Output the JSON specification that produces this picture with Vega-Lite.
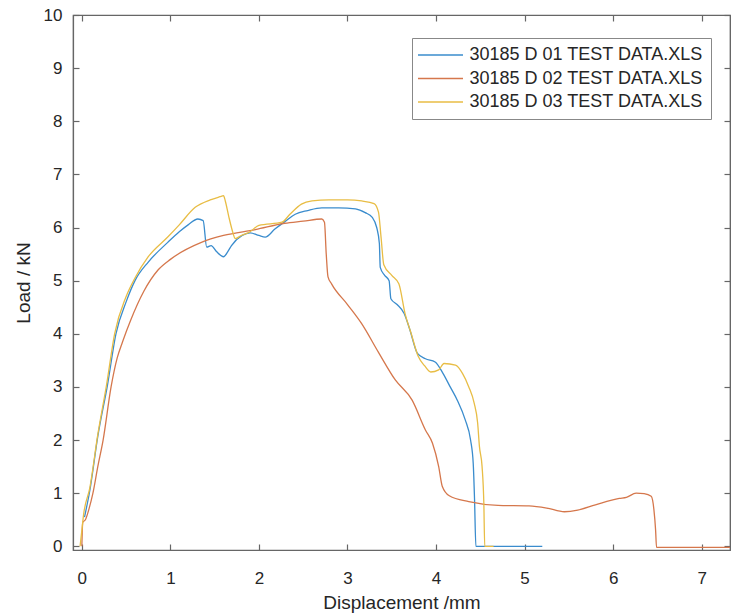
{
  "$schema": "https://vega.github.io/schema/vega-lite/v6.json",
  "width": 657,
  "height": 535,
  "autosize": {"type": "none"},
  "padding": {"left": 73, "top": 15, "right": 1, "bottom": 64},
  "background": "white",
  "config": {
    "font": "Liberation Sans",
    "view": {"stroke": "#666666", "strokeWidth": 1.2},
    "axis": {"grid": false, "domainColor": "#666666", "tickColor": "#666666", "labelColor": "#262626", "titleColor": "#262626", "labelFont": "Liberation Sans", "titleFont": "Liberation Sans", "labelFontSize": 17, "titleFontSize": 19, "titleFontWeight": "normal", "tickSize": -6, "tickWidth": 1.2, "domainWidth": 1.2}
  },
  "data": {"values": [
    {"file": "30185 D 01 TEST DATA.XLS", "disp": 0.03, "load": 0.55},
    {"file": "30185 D 01 TEST DATA.XLS", "disp": 0.09, "load": 1.05},
    {"file": "30185 D 01 TEST DATA.XLS", "disp": 0.18, "load": 2.07},
    {"file": "30185 D 01 TEST DATA.XLS", "disp": 0.29, "load": 3.04},
    {"file": "30185 D 01 TEST DATA.XLS", "disp": 0.385, "load": 4.0},
    {"file": "30185 D 01 TEST DATA.XLS", "disp": 0.5, "load": 4.6},
    {"file": "30185 D 01 TEST DATA.XLS", "disp": 0.6, "load": 5.0},
    {"file": "30185 D 01 TEST DATA.XLS", "disp": 0.75, "load": 5.35},
    {"file": "30185 D 01 TEST DATA.XLS", "disp": 0.97, "load": 5.72},
    {"file": "30185 D 01 TEST DATA.XLS", "disp": 1.1, "load": 5.92},
    {"file": "30185 D 01 TEST DATA.XLS", "disp": 1.2, "load": 6.05},
    {"file": "30185 D 01 TEST DATA.XLS", "disp": 1.31, "load": 6.16},
    {"file": "30185 D 01 TEST DATA.XLS", "disp": 1.37, "load": 6.13},
    {"file": "30185 D 01 TEST DATA.XLS", "disp": 1.41, "load": 5.63},
    {"file": "30185 D 01 TEST DATA.XLS", "disp": 1.46, "load": 5.66},
    {"file": "30185 D 01 TEST DATA.XLS", "disp": 1.52, "load": 5.55},
    {"file": "30185 D 01 TEST DATA.XLS", "disp": 1.6, "load": 5.45},
    {"file": "30185 D 01 TEST DATA.XLS", "disp": 1.65, "load": 5.55},
    {"file": "30185 D 01 TEST DATA.XLS", "disp": 1.69, "load": 5.66},
    {"file": "30185 D 01 TEST DATA.XLS", "disp": 1.81, "load": 5.85},
    {"file": "30185 D 01 TEST DATA.XLS", "disp": 1.9, "load": 5.9},
    {"file": "30185 D 01 TEST DATA.XLS", "disp": 2.0, "load": 5.85},
    {"file": "30185 D 01 TEST DATA.XLS", "disp": 2.07, "load": 5.82},
    {"file": "30185 D 01 TEST DATA.XLS", "disp": 2.18, "load": 5.97},
    {"file": "30185 D 01 TEST DATA.XLS", "disp": 2.3, "load": 6.12},
    {"file": "30185 D 01 TEST DATA.XLS", "disp": 2.41, "load": 6.25},
    {"file": "30185 D 01 TEST DATA.XLS", "disp": 2.55, "load": 6.32},
    {"file": "30185 D 01 TEST DATA.XLS", "disp": 2.71, "load": 6.37},
    {"file": "30185 D 01 TEST DATA.XLS", "disp": 2.9, "load": 6.37},
    {"file": "30185 D 01 TEST DATA.XLS", "disp": 3.09, "load": 6.35},
    {"file": "30185 D 01 TEST DATA.XLS", "disp": 3.2, "load": 6.28},
    {"file": "30185 D 01 TEST DATA.XLS", "disp": 3.28, "load": 6.19},
    {"file": "30185 D 01 TEST DATA.XLS", "disp": 3.33, "load": 6.0},
    {"file": "30185 D 01 TEST DATA.XLS", "disp": 3.36, "load": 5.7},
    {"file": "30185 D 01 TEST DATA.XLS", "disp": 3.37, "load": 5.25},
    {"file": "30185 D 01 TEST DATA.XLS", "disp": 3.42, "load": 5.1},
    {"file": "30185 D 01 TEST DATA.XLS", "disp": 3.47, "load": 5.0},
    {"file": "30185 D 01 TEST DATA.XLS", "disp": 3.49, "load": 4.66},
    {"file": "30185 D 01 TEST DATA.XLS", "disp": 3.56, "load": 4.55},
    {"file": "30185 D 01 TEST DATA.XLS", "disp": 3.64, "load": 4.38},
    {"file": "30185 D 01 TEST DATA.XLS", "disp": 3.7, "load": 4.1},
    {"file": "30185 D 01 TEST DATA.XLS", "disp": 3.79, "load": 3.63},
    {"file": "30185 D 01 TEST DATA.XLS", "disp": 3.88, "load": 3.53},
    {"file": "30185 D 01 TEST DATA.XLS", "disp": 3.99, "load": 3.47},
    {"file": "30185 D 01 TEST DATA.XLS", "disp": 4.08, "load": 3.25},
    {"file": "30185 D 01 TEST DATA.XLS", "disp": 4.16, "load": 3.0},
    {"file": "30185 D 01 TEST DATA.XLS", "disp": 4.24, "load": 2.75},
    {"file": "30185 D 01 TEST DATA.XLS", "disp": 4.33, "load": 2.38},
    {"file": "30185 D 01 TEST DATA.XLS", "disp": 4.39, "load": 2.0},
    {"file": "30185 D 01 TEST DATA.XLS", "disp": 4.42, "load": 1.56},
    {"file": "30185 D 01 TEST DATA.XLS", "disp": 4.435, "load": 0.88},
    {"file": "30185 D 01 TEST DATA.XLS", "disp": 4.45, "load": 0.0},
    {"file": "30185 D 01 TEST DATA.XLS", "disp": 5.2, "load": 0.0},
    {"file": "30185 D 02 TEST DATA.XLS", "disp": 0.0, "load": 0.0},
    {"file": "30185 D 02 TEST DATA.XLS", "disp": 0.01, "load": 0.45},
    {"file": "30185 D 02 TEST DATA.XLS", "disp": 0.04, "load": 0.5},
    {"file": "30185 D 02 TEST DATA.XLS", "disp": 0.08, "load": 0.7},
    {"file": "30185 D 02 TEST DATA.XLS", "disp": 0.125, "load": 1.0},
    {"file": "30185 D 02 TEST DATA.XLS", "disp": 0.18, "load": 1.5},
    {"file": "30185 D 02 TEST DATA.XLS", "disp": 0.24, "load": 2.0},
    {"file": "30185 D 02 TEST DATA.XLS", "disp": 0.33, "load": 3.0},
    {"file": "30185 D 02 TEST DATA.XLS", "disp": 0.4, "load": 3.55},
    {"file": "30185 D 02 TEST DATA.XLS", "disp": 0.46, "load": 3.85},
    {"file": "30185 D 02 TEST DATA.XLS", "disp": 0.55, "load": 4.25},
    {"file": "30185 D 02 TEST DATA.XLS", "disp": 0.7, "load": 4.8},
    {"file": "30185 D 02 TEST DATA.XLS", "disp": 0.86, "load": 5.2},
    {"file": "30185 D 02 TEST DATA.XLS", "disp": 1.0, "load": 5.4},
    {"file": "30185 D 02 TEST DATA.XLS", "disp": 1.35, "load": 5.72},
    {"file": "30185 D 02 TEST DATA.XLS", "disp": 1.6, "load": 5.85},
    {"file": "30185 D 02 TEST DATA.XLS", "disp": 1.96, "load": 5.96},
    {"file": "30185 D 02 TEST DATA.XLS", "disp": 2.29, "load": 6.08},
    {"file": "30185 D 02 TEST DATA.XLS", "disp": 2.5, "load": 6.12},
    {"file": "30185 D 02 TEST DATA.XLS", "disp": 2.71, "load": 6.16},
    {"file": "30185 D 02 TEST DATA.XLS", "disp": 2.74, "load": 6.1},
    {"file": "30185 D 02 TEST DATA.XLS", "disp": 2.76, "load": 5.5},
    {"file": "30185 D 02 TEST DATA.XLS", "disp": 2.78, "load": 5.07},
    {"file": "30185 D 02 TEST DATA.XLS", "disp": 2.82, "load": 4.94},
    {"file": "30185 D 02 TEST DATA.XLS", "disp": 3.0, "load": 4.55},
    {"file": "30185 D 02 TEST DATA.XLS", "disp": 3.16, "load": 4.19},
    {"file": "30185 D 02 TEST DATA.XLS", "disp": 3.35, "load": 3.65},
    {"file": "30185 D 02 TEST DATA.XLS", "disp": 3.54, "load": 3.13},
    {"file": "30185 D 02 TEST DATA.XLS", "disp": 3.73, "load": 2.75},
    {"file": "30185 D 02 TEST DATA.XLS", "disp": 3.88, "load": 2.19},
    {"file": "30185 D 02 TEST DATA.XLS", "disp": 3.96, "load": 1.94},
    {"file": "30185 D 02 TEST DATA.XLS", "disp": 4.03, "load": 1.5},
    {"file": "30185 D 02 TEST DATA.XLS", "disp": 4.07, "load": 1.13},
    {"file": "30185 D 02 TEST DATA.XLS", "disp": 4.15, "load": 0.95},
    {"file": "30185 D 02 TEST DATA.XLS", "disp": 4.37, "load": 0.84},
    {"file": "30185 D 02 TEST DATA.XLS", "disp": 4.7, "load": 0.77},
    {"file": "30185 D 02 TEST DATA.XLS", "disp": 5.05, "load": 0.76},
    {"file": "30185 D 02 TEST DATA.XLS", "disp": 5.25, "load": 0.72},
    {"file": "30185 D 02 TEST DATA.XLS", "disp": 5.45, "load": 0.65},
    {"file": "30185 D 02 TEST DATA.XLS", "disp": 5.6, "load": 0.68},
    {"file": "30185 D 02 TEST DATA.XLS", "disp": 5.8, "load": 0.78},
    {"file": "30185 D 02 TEST DATA.XLS", "disp": 6.07, "load": 0.9},
    {"file": "30185 D 02 TEST DATA.XLS", "disp": 6.15, "load": 0.92},
    {"file": "30185 D 02 TEST DATA.XLS", "disp": 6.26, "load": 1.0},
    {"file": "30185 D 02 TEST DATA.XLS", "disp": 6.35, "load": 0.99},
    {"file": "30185 D 02 TEST DATA.XLS", "disp": 6.43, "load": 0.94},
    {"file": "30185 D 02 TEST DATA.XLS", "disp": 6.46, "load": 0.7},
    {"file": "30185 D 02 TEST DATA.XLS", "disp": 6.48, "load": 0.3},
    {"file": "30185 D 02 TEST DATA.XLS", "disp": 6.49, "load": -0.02},
    {"file": "30185 D 02 TEST DATA.XLS", "disp": 7.4, "load": -0.02},
    {"file": "30185 D 03 TEST DATA.XLS", "disp": -0.02, "load": 0.0},
    {"file": "30185 D 03 TEST DATA.XLS", "disp": 0.0, "load": 0.3},
    {"file": "30185 D 03 TEST DATA.XLS", "disp": 0.02, "load": 0.6},
    {"file": "30185 D 03 TEST DATA.XLS", "disp": 0.09, "load": 1.1},
    {"file": "30185 D 03 TEST DATA.XLS", "disp": 0.18, "load": 2.1},
    {"file": "30185 D 03 TEST DATA.XLS", "disp": 0.28, "load": 3.05},
    {"file": "30185 D 03 TEST DATA.XLS", "disp": 0.37, "load": 4.0},
    {"file": "30185 D 03 TEST DATA.XLS", "disp": 0.5, "load": 4.7},
    {"file": "30185 D 03 TEST DATA.XLS", "disp": 0.6, "load": 5.05},
    {"file": "30185 D 03 TEST DATA.XLS", "disp": 0.75, "load": 5.45},
    {"file": "30185 D 03 TEST DATA.XLS", "disp": 0.97, "load": 5.82},
    {"file": "30185 D 03 TEST DATA.XLS", "disp": 1.1, "load": 6.05},
    {"file": "30185 D 03 TEST DATA.XLS", "disp": 1.28, "load": 6.38},
    {"file": "30185 D 03 TEST DATA.XLS", "disp": 1.45, "load": 6.52},
    {"file": "30185 D 03 TEST DATA.XLS", "disp": 1.56, "load": 6.58},
    {"file": "30185 D 03 TEST DATA.XLS", "disp": 1.6, "load": 6.6},
    {"file": "30185 D 03 TEST DATA.XLS", "disp": 1.62, "load": 6.5},
    {"file": "30185 D 03 TEST DATA.XLS", "disp": 1.66, "load": 6.2},
    {"file": "30185 D 03 TEST DATA.XLS", "disp": 1.71, "load": 5.88},
    {"file": "30185 D 03 TEST DATA.XLS", "disp": 1.73, "load": 5.79},
    {"file": "30185 D 03 TEST DATA.XLS", "disp": 1.8, "load": 5.85},
    {"file": "30185 D 03 TEST DATA.XLS", "disp": 1.89, "load": 5.91},
    {"file": "30185 D 03 TEST DATA.XLS", "disp": 2.0, "load": 6.04},
    {"file": "30185 D 03 TEST DATA.XLS", "disp": 2.26, "load": 6.1},
    {"file": "30185 D 03 TEST DATA.XLS", "disp": 2.35, "load": 6.25},
    {"file": "30185 D 03 TEST DATA.XLS", "disp": 2.48, "load": 6.44},
    {"file": "30185 D 03 TEST DATA.XLS", "disp": 2.6, "load": 6.5},
    {"file": "30185 D 03 TEST DATA.XLS", "disp": 2.79, "load": 6.52},
    {"file": "30185 D 03 TEST DATA.XLS", "disp": 3.0, "load": 6.52},
    {"file": "30185 D 03 TEST DATA.XLS", "disp": 3.16, "load": 6.5},
    {"file": "30185 D 03 TEST DATA.XLS", "disp": 3.3, "load": 6.45},
    {"file": "30185 D 03 TEST DATA.XLS", "disp": 3.35, "load": 6.29},
    {"file": "30185 D 03 TEST DATA.XLS", "disp": 3.38, "load": 5.8},
    {"file": "30185 D 03 TEST DATA.XLS", "disp": 3.41, "load": 5.3},
    {"file": "30185 D 03 TEST DATA.XLS", "disp": 3.5, "load": 5.1},
    {"file": "30185 D 03 TEST DATA.XLS", "disp": 3.58, "load": 4.94},
    {"file": "30185 D 03 TEST DATA.XLS", "disp": 3.65, "load": 4.38},
    {"file": "30185 D 03 TEST DATA.XLS", "disp": 3.72, "load": 4.0},
    {"file": "30185 D 03 TEST DATA.XLS", "disp": 3.8, "load": 3.57},
    {"file": "30185 D 03 TEST DATA.XLS", "disp": 3.87, "load": 3.4},
    {"file": "30185 D 03 TEST DATA.XLS", "disp": 3.94, "load": 3.28},
    {"file": "30185 D 03 TEST DATA.XLS", "disp": 4.03, "load": 3.32},
    {"file": "30185 D 03 TEST DATA.XLS", "disp": 4.09, "load": 3.44},
    {"file": "30185 D 03 TEST DATA.XLS", "disp": 4.22, "load": 3.41},
    {"file": "30185 D 03 TEST DATA.XLS", "disp": 4.3, "load": 3.25},
    {"file": "30185 D 03 TEST DATA.XLS", "disp": 4.37, "load": 3.0},
    {"file": "30185 D 03 TEST DATA.XLS", "disp": 4.43, "load": 2.7},
    {"file": "30185 D 03 TEST DATA.XLS", "disp": 4.47, "load": 2.32},
    {"file": "30185 D 03 TEST DATA.XLS", "disp": 4.49, "load": 1.88},
    {"file": "30185 D 03 TEST DATA.XLS", "disp": 4.52, "load": 1.5},
    {"file": "30185 D 03 TEST DATA.XLS", "disp": 4.54, "load": 0.8},
    {"file": "30185 D 03 TEST DATA.XLS", "disp": 4.55, "load": 0.0},
    {"file": "30185 D 03 TEST DATA.XLS", "disp": 4.65, "load": 0.0}
  ]},
  "layer": [
    {
      "mark": {"type": "line", "strokeWidth": 1.3, "clip": true, "interpolate": "monotone"},
      "encoding": {
        "x": {"field": "disp", "type": "quantitative", "scale": {"domain": [-0.1, 7.32], "nice": false, "zero": false}, "axis": {"title": "Displacement /mm", "values": [0, 1, 2, 3, 4, 5, 6, 7], "labelPadding": 26, "titlePadding": 7}},
        "y": {"field": "load", "type": "quantitative", "scale": {"domain": [-0.07, 10], "nice": false, "zero": false}, "axis": {"title": "Load / kN", "values": [0, 1, 2, 3, 4, 5, 6, 7, 8, 9, 10], "labelPadding": 17, "titlePadding": 10}},
        "color": {"field": "file", "type": "nominal", "scale": {"range": ["#3a8ccd", "#d5774c", "#e8bd45"]}, "legend": {"title": null, "orient": "none", "legendX": 339, "legendY": 23, "symbolType": "M-3,0H3", "symbolSize": 225, "symbolStrokeWidth": 1.5, "symbolOffset": 11.5, "labelOffset": 20, "labelFontSize": 18, "labelLimit": 400, "labelColor": "#262626", "strokeColor": "#888888", "fillColor": "white", "padding": 8, "rowPadding": 5.5}}
      }
    },
    {
      "mark": {"type": "line", "opacity": 0, "clip": true},
      "encoding": {
        "x": {"field": "disp", "type": "quantitative", "scale": {"domain": [-0.1, 7.32], "nice": false, "zero": false}, "axis": {"orient": "top", "values": [0, 1, 2, 3, 4, 5, 6, 7], "labels": false, "title": null}},
        "y": {"field": "load", "type": "quantitative", "scale": {"domain": [-0.07, 10], "nice": false, "zero": false}, "axis": {"orient": "right", "values": [0, 1, 2, 3, 4, 5, 6, 7, 8, 9, 10], "labels": false, "title": null}},
        "detail": {"field": "file"}
      }
    }
  ],
  "resolve": {"axis": {"x": "independent", "y": "independent"}}
}
